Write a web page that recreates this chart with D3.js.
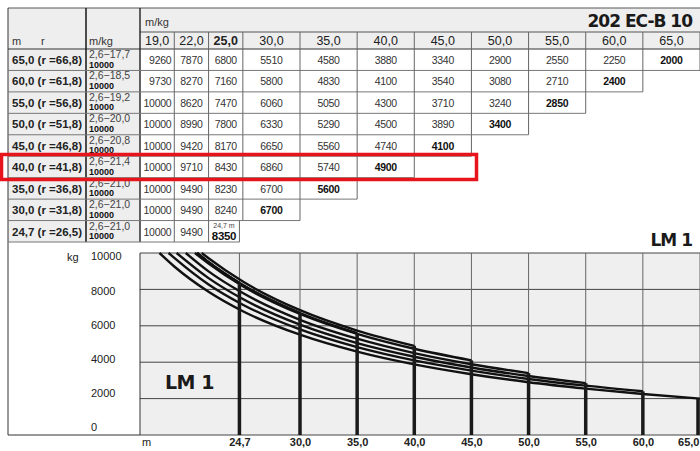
<!DOCTYPE html>
<html>
<head>
<meta charset="utf-8">
<title>202 EC-B 10 load chart</title>
<style type="text/css">
	body { margin: 0; background: white; }
	svg { display: block; font-family: "Liberation Sans", Arial, sans-serif; }
	.heavy { font-family: "DejaVu Sans", sans-serif; font-weight: bold; fill: #1a1a1a; }
</style>
</head>
<body>
<svg id="chart"></svg>
<script src="https://cdnjs.cloudflare.com/ajax/libs/d3/7.8.5/d3.min.js"></script>
<script type="text/javascript">
	// radius columns (m) and their labels
	var radii = [19, 22, 25, 30, 35, 40, 45, 50, 55, 60, 65];
	var radiusLabels = ["19,0", "22,0", "25,0", "30,0", "35,0", "40,0", "45,0", "50,0", "55,0", "60,0", "65,0"];

	// jib lengths (rows)
	var jibs = [65, 60, 55, 50, 45, 40, 35, 30, 24.7];
	var jibLabels = ["65,0", "60,0", "55,0", "50,0", "45,0", "40,0", "35,0", "30,0", "24,7"];
	var jibR = ["66,8", "61,8", "56,8", "51,8", "46,8", "41,8", "36,8", "31,8", "26,5"];
	var maxRange = ["2,6\u221217,7", "2,6\u221218,5", "2,6\u221219,2", "2,6\u221220,0", "2,6\u221220,8",
		"2,6\u221221,4", "2,6\u221221,0", "2,6\u221221,0", "2,6\u221221,0"];
	var maxReach = [17.7, 18.5, 19.2, 20.0, 20.8, 21.4, 21.0, 21.0, 21.0];
	var maxLoad = 10000;

	// loads (kg) per row, one per radius column until the jib end
	var loads = [
		[9260, 7870, 6800, 5510, 4580, 3880, 3340, 2900, 2550, 2250, 2000],
		[9730, 8270, 7160, 5800, 4830, 4100, 3540, 3080, 2710, 2400],
		[10000, 8620, 7470, 6060, 5050, 4300, 3710, 3240, 2850],
		[10000, 8990, 7800, 6330, 5290, 4500, 3890, 3400],
		[10000, 9420, 8170, 6650, 5560, 4740, 4100],
		[10000, 9710, 8430, 6860, 5740, 4900],
		[10000, 9490, 8230, 6700, 5600],
		[10000, 9490, 8240, 6700],
		[10000, 9490, 8350]
	];

	var xTicks = [24.7, 30, 35, 40, 45, 50, 55, 60, 65];
	var xTickLabels = ["24,7", "30,0", "35,0", "40,0", "45,0", "50,0", "55,0", "60,0", "65,0"];
	var yTicks = [0, 2000, 4000, 6000, 8000, 10000];

	var width = 700, height = 451;
	var svg = d3.select("#chart").attr("width", width).attr("height", height);
	svg.append("rect").attr("width", width).attr("height", height).attr("fill", "white");

	var x = d3.scaleLinear().domain([16, 65]).range([140, 700]);
	var y = d3.scaleLinear().domain([0, 10000]).range([435, 253]);
	var row = d3.scaleBand().domain(jibLabels).range([49, 242]);

	function radiusAt(i, j) {
		// last cell of the 24,7 row sits at 24,7 m
		return (j === loads[i].length - 1) ? jibs[i] : radii[j];
	}
	function colLeft(j) { return x(j === 0 ? 16 : radii[j - 1]); }

	// ---------- table ----------
	var tbl = svg.append("g");
	tbl.append("rect").attr("x", 8).attr("y", 8).attr("width", 692).attr("height", 41).attr("fill", "#eeeeee");
	tbl.append("rect").attr("x", 8).attr("y", 49).attr("width", 132).attr("height", 193).attr("fill", "#eeeeee");

	var lineC = "#555";
	function hl(x1, x2, yy, c, w) {
		tbl.append("line").attr("x1", x1).attr("x2", x2).attr("y1", yy).attr("y2", yy)
			.attr("stroke", c || lineC).attr("stroke-width", w || 1);
	}
	function vl(xx, y1, y2, c, w) {
		tbl.append("line").attr("x1", xx).attr("x2", xx).attr("y1", y1).attr("y2", y2)
			.attr("stroke", c || lineC).attr("stroke-width", w || 1);
	}

	hl(8, 700, 8);
	hl(140, 700, 32);
	hl(8, 700, 49, "#333");
	vl(8, 8, 435, "#333");
	vl(86, 8, 242, "#222", 1.6);
	vl(140, 8, 242, "#222", 1.4);

	jibLabels.forEach(function(lab, i) {
		var top = row(lab), bot = top + row.bandwidth();
		var n = loads[i].length;
		var right = x(radiusAt(i, n - 1));
		hl(8, right, bot, "#777");
		for (var j = 0; j < n; j++) {
			var xr = x(radiusAt(i, j));
			vl(xr, top, bot, "#666");
			var v = loads[i][j];
			var last = j === n - 1;
			var cx = j === 0 ? xr - 3 : (colLeft(j) + xr) / 2;
			var t = tbl.append("text")
				.attr("x", cx)
				.attr("text-anchor", j === 0 ? "end" : "middle")
				.attr("font-size", 10.5)
				.attr("letter-spacing", -0.3)
				.attr("font-weight", last ? "bold" : "normal")
				.attr("fill", last ? "#111" : "#333")
				.text(v);
			if (last && i === jibs.length - 1) {
				t.attr("y", bot - 2.5).attr("font-size", 11.5);
				tbl.append("text").attr("x", cx).attr("y", top + 7.5).attr("text-anchor", "middle")
					.attr("font-size", 7).attr("fill", "#444").text("24,7 m");
			} else {
				t.attr("y", top + 15);
			}
		}
		// row headers
		tbl.append("text").attr("x", 12).attr("y", top + 15).attr("font-size", 11.5)
			.attr("font-weight", "bold").attr("fill", "#222")
			.text(lab + " (r =" + jibR[i] + ")");
		tbl.append("text").attr("x", 89).attr("y", top + 9).attr("font-size", 10.5)
			.attr("fill", "#444").text(maxRange[i]);
		tbl.append("text").attr("x", 89).attr("y", top + 18.5).attr("font-size", 9)
			.attr("font-weight", "bold").attr("fill", "#111").text(maxLoad);
	});
	radii.forEach(function(r) { vl(x(r), 32, 49, "#666"); });

	// header labels
	tbl.append("text").attr("x", 145).attr("y", 26).attr("font-size", 11).attr("fill", "#333").text("m/kg");
	tbl.append("text").attr("x", 12).attr("y", 45).attr("font-size", 11).attr("fill", "#333").text("m");
	tbl.append("text").attr("x", 41).attr("y", 45).attr("font-size", 11).attr("fill", "#333").text("r");
	tbl.append("text").attr("x", 89).attr("y", 45).attr("font-size", 11).attr("fill", "#333").text("m/kg");
	radiusLabels.forEach(function(lab, j) {
		tbl.append("text")
			.attr("x", (colLeft(j) + x(radii[j])) / 2)
			.attr("y", 45)
			.attr("text-anchor", "middle")
			.attr("font-size", 12.5)
			.attr("font-weight", j === 2 ? "bold" : "normal")
			.attr("fill", "#222")
			.text(lab);
	});

	svg.append("text").attr("class", "heavy").attr("x", 692).attr("y", 27)
		.attr("text-anchor", "end").attr("font-size", 17).attr("letter-spacing", -1).text("202 EC-B 10");

	// ---------- chart ----------
	var plot = svg.append("g");
	plot.append("rect").attr("x", x(16)).attr("y", y(10000))
		.attr("width", x(65) - x(16)).attr("height", y(0) - y(10000)).attr("fill", "#efefef");

	plot.selectAll(".hgrid").data(yTicks).enter().append("line")
		.attr("x1", x(16)).attr("x2", x(65))
		.attr("y1", d => y(d)).attr("y2", d => y(d))
		.attr("stroke", "#444").attr("stroke-width", 1);
	plot.selectAll(".vgrid").data(xTicks).enter().append("line")
		.attr("x1", d => x(d)).attr("x2", d => x(d))
		.attr("y1", y(0)).attr("y2", y(10000))
		.attr("stroke", "#666").attr("stroke-width", 1);
	plot.append("line").attr("x1", x(16)).attr("x2", x(16)).attr("y1", y(10000)).attr("y2", y(0)).attr("stroke", "#333");
	plot.append("line").attr("x1", 8).attr("x2", 140).attr("y1", 435).attr("y2", 435).attr("stroke", "#333");

	// load curves, one per jib length
	var line = d3.line().x(d => x(d[0])).y(d => y(d[1])).curve(d3.curveMonotoneX);
	jibs.forEach(function(jib, i) {
		var pts = [[maxReach[i], maxLoad]];
		loads[i].forEach(function(v, j) {
			var r = radiusAt(i, j);
			if (r > maxReach[i]) pts.push([r, v]);
		});
		plot.append("path").datum(pts).attr("d", line)
			.attr("fill", "none").attr("stroke", "#111").attr("stroke-width", 2.4);
	});

	// bars at the jib ends
	var ends = jibs.map((jib, i) => [jib, loads[i][loads[i].length - 1]]);
	plot.selectAll(".bar").data(ends).enter().append("line")
		.attr("x1", d => Math.min(x(d[0]), 698)).attr("x2", d => Math.min(x(d[0]), 698))
		.attr("y1", y(0)).attr("y2", d => y(d[1]))
		.attr("stroke", "#1a1a1a").attr("stroke-width", 3.5);

	// axes
	var xAxis = svg.append("g").attr("transform", "translate(0,435)")
		.call(d3.axisBottom(x).tickValues(xTicks).tickSize(0).tickPadding(3)
			.tickFormat(d => xTickLabels[xTicks.indexOf(d)]));
	xAxis.select(".domain").remove();
	xAxis.selectAll("text").attr("font-family", "Liberation Sans, Arial, sans-serif")
		.attr("font-size", 11).attr("font-weight", "bold").attr("fill", "#222");
	xAxis.selectAll(".tick").filter(d => d === 65).select("text").attr("text-anchor", "end").attr("dx", -1);
	svg.append("text").attr("x", 142).attr("y", 446).attr("font-size", 11).attr("fill", "#222").text("m");

	var yLab = d3.scaleLinear().domain([0, 10000]).range([432, 261]);
	var yAxis = svg.append("g").attr("transform", "translate(91,0)")
		.call(d3.axisRight(yLab).tickValues(yTicks).tickSize(0).tickPadding(0).tickFormat(d => d));
	yAxis.select(".domain").remove();
	yAxis.selectAll("text").attr("font-family", "Liberation Sans, Arial, sans-serif")
		.attr("font-size", 11).attr("fill", "#222").attr("dy", "-0.1em");
	svg.append("text").attr("x", 67).attr("y", 261).attr("font-size", 11).attr("fill", "#222").text("kg");

	svg.append("text").attr("class", "heavy").attr("x", 165).attr("y", 389)
		.attr("font-size", 19).attr("letter-spacing", -0.5).text("LM 1");
	svg.append("text").attr("class", "heavy").attr("x", 692).attr("y", 246)
		.attr("text-anchor", "end").attr("font-size", 17).attr("letter-spacing", -1).text("LM 1");

	// highlighted row
	svg.append("rect").attr("x", 1.5).attr("y", 154.5).attr("width", 475).attr("height", 25)
		.attr("fill", "none").attr("stroke", "#e8141c").attr("stroke-width", 3.5);
</script>
</body>
</html>
